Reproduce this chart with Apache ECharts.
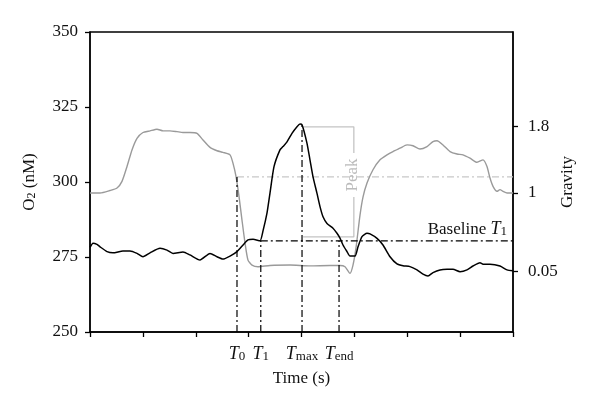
<!DOCTYPE html>
<html><head><meta charset="utf-8">
<script src="https://cdn.jsdelivr.net/npm/echarts@6/dist/echarts.min.js"></script>
<style>html,body{margin:0;padding:0;background:#fff}#c{width:600px;height:414px}</style>
</head><body><div id="c"></div>
<script>
// ---- data ----
const blackX = [0,0.57,1.32,1.89,3.22,4.35,6.24,7.57,8.89,10.02,11.35,13.24,14.56,15.70,17.59,18.91,20.80,22.70,24.02,25.15,26.48,27.80,28.94,29.88,30.83,32.15,32.72,33.48,34.04,34.80,35.93,36.50,37.26,38.20,39.15,39.72,40.10,41.04,41.61,42.17,42.93,43.50,44.07,44.82,45.96,46.71,47.28,47.85,48.61,49.17,50.12,50.69,51.44,52.39,52.96,54.28,55.41,56.74,58.06,59.20,60.52,61.84,62.98,63.92,64.87,66.19,67.52,68.65,69.98,71.30,72.43,73.76,74.33,75.65,77.54,78.87,80];
const o2Values = [278.2,279.6,279.2,278.4,276.8,276.4,277.0,277.0,276.2,275.1,276.4,277.9,277.3,276.2,276.7,275.7,274.0,276.2,275.1,274.3,275.3,276.8,279.0,280.7,280.9,280.4,283.7,289.7,296.3,305.1,310.7,311.8,313.4,316.2,318.4,319.3,319.1,312.9,307.3,301.8,296.2,291.8,288.4,286.2,284.6,282.9,281.3,279.0,276.8,275.3,275.3,278.4,281.8,282.9,282.7,281.2,279.0,275.1,272.7,272.1,271.8,270.7,269.3,268.7,269.8,270.7,270.9,270.9,270.1,270.7,272.0,273.1,272.6,272.6,272.0,270.7,270.4];
const grayX = [0,1.89,3.78,5.11,6.05,7.0,7.94,8.89,10.02,11.35,12.67,13.81,15.13,16.45,17.59,18.91,20.24,21.37,22.7,24.02,25.15,26.48,27.04,27.61,28.18,28.75,29.31,29.88,30.64,31.77,34.04,37.83,41.61,45.39,47.28,48.23,49.17,49.74,50.31,51.06,51.63,52.39,53.52,54.85,56.17,57.3,58.63,59.95,61.09,62.41,63.74,64.87,65.63,66.76,68.09,69.41,70.54,71.87,73.19,74.33,75.08,75.65,76.22,76.97,77.54,78.11,78.87,80];
const gravityValues = [1.00,1.00,1.03,1.06,1.14,1.32,1.52,1.66,1.73,1.75,1.77,1.75,1.75,1.74,1.73,1.73,1.72,1.64,1.55,1.51,1.49,1.46,1.36,1.20,0.96,0.67,0.40,0.19,0.13,0.11,0.125,0.13,0.12,0.125,0.125,0.11,0.03,0.13,0.34,0.73,0.95,1.12,1.28,1.40,1.46,1.50,1.54,1.58,1.57,1.53,1.56,1.62,1.63,1.58,1.50,1.47,1.46,1.42,1.37,1.40,1.32,1.18,1.08,1.02,1.04,1.02,1.00,1.00];
const markerNames = ['T0','T1','Tmax','Tend'];
const markerTimes = [27.8, 32.3, 40.1, 47.1];
const markerTops = [301.7, 280.4, 319.2, 280.4];
const gravityRefLevel = 301.7;
const baselineLevel = 280.4;
const peakBracketTime = 49.9;
const peakBracketStart = 40.3;
const peakTopLevel = 318.4;
const peakBottomLevel = 281.7;
const peakGapTop = 309.7, peakGapBottom = 295.0;
const o2Ticks = [250, 275, 300, 325, 350];
const gravityTicks = [0.05, 1, 1.8];
const timeTicks = [0,10,20,30,40,50,60,70,80];
// ----------------

const zip = (xs, ys) => xs.map((x, i) => [x, ys[i]]);
const SERIF = '"Liberation Serif","DejaVu Serif",serif';
const dashDot = [7, 3, 2, 3];
const refSeries = (pts, color, extra) => Object.assign({
  type: 'line', data: pts, symbol: 'none', silent: true, animation: false,
  lineStyle: { color: color, width: 1.2, type: dashDot }, z: 3
}, extra || {});

const labelMap = {
  'T0': '{t|T}{s|0}', 'T1': '{t|T}{s|1}', 'Tmax': '{t|T}{s|max}', 'Tend': '{t|T}{s|end}'
};
const richSub = {
  t: { fontFamily: SERIF, fontStyle: 'italic', fontSize: 18, lineHeight: 22, color: '#111', verticalAlign: 'bottom' },
  s: { fontFamily: SERIF, fontSize: 13, lineHeight: 13, color: '#111', verticalAlign: 'bottom' },
  n: { fontFamily: SERIF, fontSize: 17, lineHeight: 22, color: '#111', verticalAlign: 'bottom' }
};

const series = [];
series.push({
  type: 'line', data: zip(grayX, gravityValues), yAxisIndex: 1, symbol: 'none', smooth: 0.2,
  lineStyle: { color: '#9a9a9a', width: 1.4 }, z: 2, animation: false
});
series.push({
  type: 'line', data: zip(blackX, o2Values), yAxisIndex: 0, symbol: 'none', smooth: 0.2,
  lineStyle: { color: '#000', width: 1.5 }, z: 4, animation: false
});
markerTimes.forEach((t, i) => {
  series.push(refSeries([[t, 250], [t, markerTops[i]]], '#000'));
});
series.push(refSeries([[markerTimes[0], gravityRefLevel], [80, gravityRefLevel]], '#c8c8c8', { z: 1 }));
series.push(refSeries([[markerTimes[1], baselineLevel], [80, baselineLevel]], '#000', {
  markLine: {
    symbol: 'none', silent: true, animation: false,
    lineStyle: { color: 'rgba(0,0,0,0)', width: 0 },
    label: {
      show: true, position: 'insideEndTop', distance: [6, 3],
      formatter: '{n|Baseline }{t|T}{s|1}', rich: richSub
    },
    data: [[{ coord: [markerTimes[1], baselineLevel] }, { coord: [80, baselineLevel] }]]
  }
}));
const bracketStyle = { color: '#c4c4c4', width: 1.3, type: 'solid' };
series.push({ type: 'line', data: [[peakBracketStart, peakTopLevel], [peakBracketTime, peakTopLevel], [peakBracketTime, peakGapTop]],
  symbol: 'none', lineStyle: bracketStyle, z: 1, animation: false, silent: true });
series.push({ type: 'line', data: [[peakBracketTime, peakGapBottom], [peakBracketTime, peakBottomLevel], [peakBracketStart, peakBottomLevel]],
  symbol: 'none', lineStyle: bracketStyle, z: 1, animation: false, silent: true });
series.push({
  type: 'scatter', data: [[peakBracketTime - 0.2, (peakGapTop + peakGapBottom) / 2]], symbolSize: 1,
  itemStyle: { color: 'rgba(0,0,0,0)' }, silent: true, animation: false, z: 5,
  label: { show: true, position: 'inside', formatter: 'Peak', rotate: 90, color: '#aaaaaa',
    fontFamily: SERIF, fontSize: 17 }
});

const chart = echarts.init(document.getElementById('c'));
chart.setOption({
  animation: false,
  grid: { left: 90, right: 87, top: 32, bottom: 82, show: true, borderColor: '#000', borderWidth: 1.3, backgroundColor: 'transparent' },
  xAxis: {
    type: 'value', min: 0, max: 80, interval: 10,
    name: 'Time (s)', nameLocation: 'middle', nameGap: 38,
    nameTextStyle: { fontFamily: SERIF, fontSize: 17, color: '#111' },
    axisLine: { onZero: false, lineStyle: { color: '#000', width: 1.5 } },
    axisTick: { show: true, length: 5, lineStyle: { color: '#000', width: 1.3 }, customValues: timeTicks },
    axisLabel: {
      customValues: markerTimes, margin: 9,
      formatter: (v) => { const i = markerTimes.findIndex(t => Math.abs(t - v) < 1e-6); return i >= 0 ? labelMap[markerNames[i]] : ''; },
      rich: richSub
    },
    splitLine: { show: false }
  },
  yAxis: [{
    type: 'value', min: 250, max: 350, interval: 25, position: 'left',
    name: 'O{s|2} (nM)', nameLocation: 'middle', nameGap: 52, nameRotate: 90, nameMoveOverlap: false,
    nameTextStyle: { fontFamily: SERIF, fontSize: 17, color: '#111', rich: {
      s: { fontFamily: SERIF, fontSize: 12, color: '#111', verticalAlign: 'bottom', lineHeight: 12 } } },
    axisLine: { show: true, onZero: false, lineStyle: { color: '#000', width: 1.5 } },
    axisTick: { show: true, length: 5, lineStyle: { color: '#000', width: 1.3 } },
    axisLabel: { fontFamily: SERIF, fontSize: 17, color: '#111', margin: 12, customValues: o2Ticks },
    splitLine: { show: false }
  }, {
    type: 'value', min: -0.678, max: 2.943, position: 'right',
    name: 'Gravity', nameLocation: 'middle', nameGap: 46, nameRotate: 90, nameMoveOverlap: false,
    nameTextStyle: { fontFamily: SERIF, fontSize: 17, color: '#111' },
    axisLine: { show: true, onZero: false, lineStyle: { color: '#000', width: 1.5 } },
    axisTick: { show: true, length: 5, lineStyle: { color: '#000', width: 1.3 }, customValues: gravityTicks },
    axisLabel: { fontFamily: SERIF, fontSize: 17, color: '#111', margin: 15, customValues: gravityTicks,
      formatter: (v) => String(v) },
    splitLine: { show: false }
  }],
  series: series
});
</script></body></html>
